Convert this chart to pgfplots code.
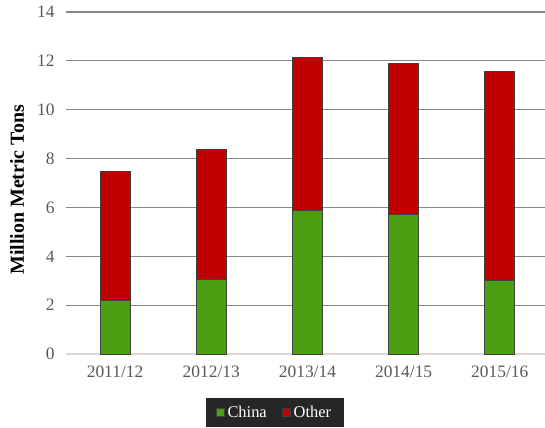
\documentclass[border=0pt]{standalone}
\usepackage{fontspec}
\setmainfont{Liberation Serif}
\usepackage{pgfplots}
\pgfplotsset{compat=1.18}
\definecolor{chinagreen}{HTML}{4A9E12}
\definecolor{otherred}{HTML}{C00000}
\definecolor{gridgray}{HTML}{878787}
\definecolor{zerogray}{HTML}{D9D9D9}
\definecolor{ticktext}{HTML}{595959}
\definecolor{barline}{HTML}{404040}
\definecolor{legbg}{HTML}{262626}
\begin{document}
\begin{tikzpicture}
\begin{axis}[
  scale only axis, width=479bp, height=342bp,
  ybar stacked, bar width=30bp,
  xmin=-0.51, xmax=4.47, ymin=0, ymax=14,
  xtick={0,1,2,3,4},
  xticklabels={2011/12,2012/13,2013/14,2014/15,2015/16},
  ytick={0,2,...,14},
  axis line style={draw=none},
  major tick length=0pt,
  ymajorgrids, grid style={color=gridgray, line width=1.1bp},
  tick label style={font=\fontsize{17.5}{20}\selectfont, text=ticktext},
  /pgf/number format/assume math mode=true,
  yticklabel style={xshift=-8bp},
  xticklabel style={yshift=-8bp},
  ylabel={Million Metric Tons},
  ylabel style={font=\fontsize{20}{24}\selectfont\bfseries, at={(axis description cs:-0.102,0.48)}, anchor=center},
  legend style={at={(axis description cs:0.436,-0.172)}, anchor=center, fill=legbg, draw=none, text=white, font=\fontsize{16.5}{19}\selectfont, legend columns=2, inner xsep=10bp, inner ysep=6bp},
  legend image code/.code={\draw[#1, draw=barline] (0bp,-4bp) rectangle (8bp,4bp);},
  /tikz/every even column/.append style={column sep=12bp},
  legend cell align=left,
  /tikz/every odd column/.append style={},
  legend style={nodes={inner xsep=3bp}},
]
\addplot[fill=chinagreen, draw=barline, line width=0.9bp] coordinates {(0,2.21) (1,3.07) (2,5.87) (3,5.73) (4,3.00)};
\addplot[fill=otherred, draw=barline, line width=0.9bp] coordinates {(0,5.28) (1,5.32) (2,6.26) (3,6.17) (4,8.57)};
\legend{China,Other}
\draw[zerogray, line width=2bp] (rel axis cs:0,0) -- (rel axis cs:1,0);
\coordinate (O) at (rel axis cs:0,0);
\end{axis}
\pgfresetboundingbox
\useasboundingbox (O) ++(-66bp,-74bp) rectangle ++(545bp,428bp);
\end{tikzpicture}
\end{document}
